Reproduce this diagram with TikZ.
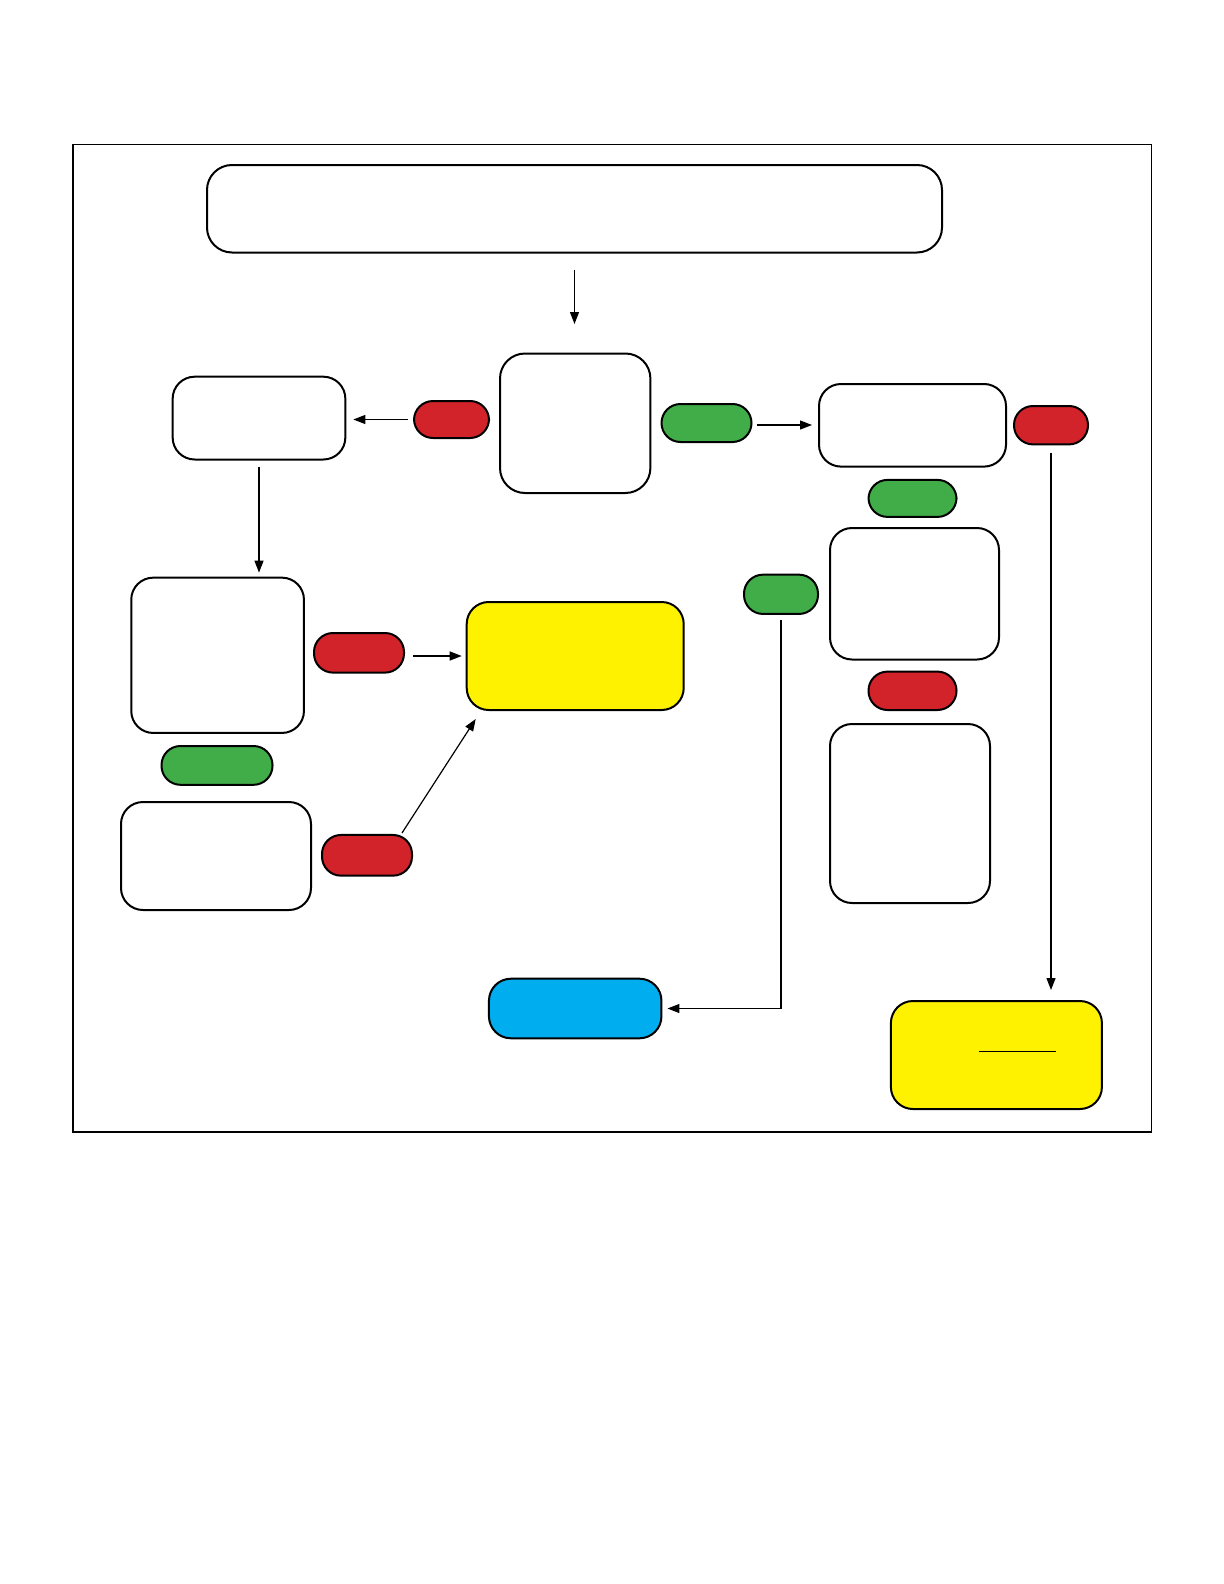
\documentclass[tikz,border=0pt]{standalone}
\usetikzlibrary{arrows.meta,calc}
\definecolor{pillred}{HTML}{D2232A}
\definecolor{pillgreen}{HTML}{41AD49}
\definecolor{boxblue}{HTML}{00AEEF}
\definecolor{boxyellow}{HTML}{FFF200}
\begin{document}
\begin{tikzpicture}[x=0.5pt,y=-0.5pt,
  box/.style={draw=black,line width=1pt,fill=white,rounded corners=11pt,inner sep=0pt,outer sep=0pt},
  ybox/.style={box,fill=boxyellow},
  bbox/.style={box,fill=boxblue},
  pill/.style={draw=black,line width=1pt,rounded corners=9.5pt,inner sep=0pt,outer sep=0pt,minimum height=19pt},
  rpill/.style={pill,fill=pillred},
  gpill/.style={pill,fill=pillgreen},
  arr/.style={draw=black,line width=0.6pt,-{Triangle[length=6pt,width=4.5pt]}},
  wd/.style={minimum width=#1*0.5pt},
  ht/.style={minimum height=#1*0.5pt}]
\useasboundingbox (0,0) rectangle (1224,1584);
\fill[white] (0,0) rectangle (1224,1584);
\draw[line width=0.8pt] (72.7,144.4) rectangle (1151.4,1132.2);

% boxes
\node[box,wd=735,ht=87.5,rounded corners=12.5pt] (top) at (574.5,208.75) {};
\node[box,wd=150.4,ht=139.5,rounded corners=12.5pt] (center) at (575.2,423.25) {};
\node[box,wd=172.7,ht=82.8] (lt) at (259,418.1) {};
\node[box,wd=187,ht=82.6] (rt) at (912.5,425.3) {};
\node[box,wd=169,ht=131.5] (rm) at (914.5,593.75) {};
\node[box,wd=160,ht=179] (rl) at (910,813.5) {};
\node[box,wd=172.7,ht=155.3] (lm) at (217.6,655.3) {};
\node[box,wd=190,ht=108] (lb) at (216,856) {};
\node[ybox,wd=217,ht=108] (yel1) at (575.2,656) {};
\node[ybox,wd=211,ht=108] (yel2) at (996.4,1055) {};
\node[bbox,wd=172.5,ht=59.6] (blue) at (575.2,1008.5) {};

% pills
\node[rpill,wd=75,ht=37] (r1) at (451.5,419.5) {};
\node[gpill,wd=90,ht=38] (g1) at (706.5,423) {};
\node[rpill,wd=74,ht=38.4] (r2) at (1051,425.2) {};
\node[gpill,wd=88,ht=37] (g2) at (912.5,498.4) {};
\node[rpill,wd=88,ht=38.4] (r3) at (912.5,690.8) {};
\node[gpill,wd=74,ht=39.3] (g3) at (781,594.3) {};
\node[rpill,wd=90,ht=39.6] (r4) at (359,652.8) {};
\node[gpill,wd=111,ht=38.8] (g4) at (217,765.4) {};
\node[rpill,wd=90,ht=40.7] (r5) at (367,855.3) {};

% underline inside bottom-right yellow box
\draw[line width=0.5pt] ($(yel2.center)+(-17.7,-4)$) -- ($(yel2.center)+(59.1,-4)$);

% connectors
\draw[arr,shorten <=8.5pt,shorten >=14.75pt] (top.south) -- (top.south |- center.north);
\draw[arr,shorten <=3pt,shorten >=4pt] (r1.west) -- (r1.west -| lt.east);
\draw[arr,shorten <=2.5pt,shorten >=3.5pt] ($(g1.east)+(0,2)$) -- ($(g1.east -| rt.west)+(0,2)$);
\draw[arr,shorten <=3.5pt,shorten >=2.5pt] (lt.south) -- (lt.south |- lm.north);
\draw[arr,shorten <=4.5pt,shorten >=2.5pt] (r4.east |- yel1.west) -- (yel1.west);
\coordinate (r5top) at ($(r5.north)+(35,-2)$);
\coordinate (yel1in) at ($(yel1.south west)+(9,9)$);
\draw[arr] (r5top) -- (yel1in);
\draw[arr,shorten <=3pt,shorten >=3pt] (g3.south) |- (blue.east);
\draw[arr,shorten <=4.5pt,shorten >=5.5pt] (r2.south) -- (r2.south |- yel2.north);
\end{tikzpicture}
\end{document}
